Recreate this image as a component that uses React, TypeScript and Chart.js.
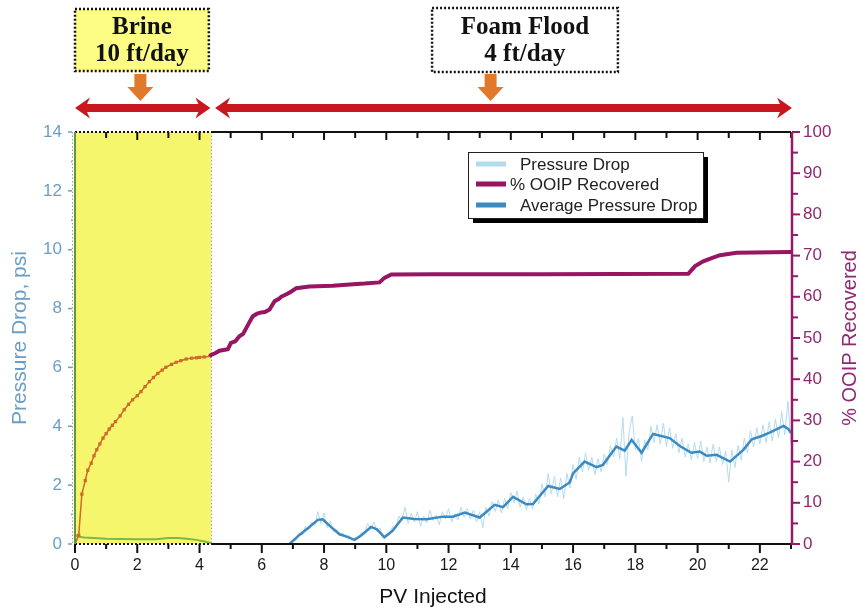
import React, { useEffect, useRef } from 'react';
import { Chart, registerables } from 'chart.js';

Chart.register(...registerables);

// ---------- data ----------
const BRINE_END = 4.37;

const ooipPV = [
  0, 0.12, 0.22, 0.33, 0.41, 0.52, 0.61, 0.7, 0.8, 0.9,
  1.0, 1.1, 1.2, 1.3, 1.45, 1.58, 1.72, 1.85, 2.0, 2.12,
  2.25, 2.39, 2.52, 2.66, 2.8, 2.92, 3.1, 3.25, 3.4, 3.57,
  3.75, 3.9, 4.0, 4.15, 4.32,
  4.37, 4.5, 4.64, 4.91, 5.01, 5.15, 5.28, 5.4, 5.5, 5.6,
  5.71, 5.85, 5.98, 6.1, 6.25, 6.41, 6.55, 6.62, 6.84, 6.95,
  7.11, 7.53, 8.28, 8.82, 9.3, 9.78, 9.94, 10.16, 11.5, 15,
  19.7, 19.91, 20.18, 20.45, 20.72, 21.25, 23,
];
const ooipPct = [
  0, 2.1, 12.1, 15.4, 17.9, 19.6, 21.4, 22.9, 24.3, 25.7,
  26.8, 27.9, 28.8, 29.7, 31.1, 32.6, 33.9, 35.0, 36.0, 37.0,
  38.2, 39.4, 40.4, 41.4, 42.2, 42.9, 43.6, 44.1, 44.5, 44.9,
  45.1, 45.2, 45.3, 45.4, 45.5,
  45.9, 46.3, 46.9, 47.3, 48.8, 49.2, 50.4, 51.0, 52.4, 53.8,
  55.3, 55.9, 56.2, 56.3, 56.9, 58.9, 59.5, 60.0, 60.8, 61.3,
  62.1, 62.5, 62.7, 63.0, 63.2, 63.5, 64.6, 65.4, 65.5, 65.5,
  65.6, 67.4, 68.6, 69.4, 70.1, 70.7, 70.9,
];

const brinePressPV = [0.02, 0.1, 0.3, 0.6, 1.0, 1.5, 2.0, 2.6, 3.0, 3.3, 3.6, 3.9, 4.2, 4.37];
const brinePress = [0.3, 0.25, 0.22, 0.2, 0.18, 0.17, 0.16, 0.16, 0.2, 0.2, 0.18, 0.14, 0.08, 0.03];

const avgPV = [
  6.89, 7.2, 7.5, 7.8, 7.96, 8.2, 8.5, 8.75, 8.98, 9.2,
  9.51, 9.7, 9.94, 10.2, 10.53, 10.9, 11.29, 11.82, 12.14, 12.52,
  13.0, 13.48, 13.75, 14.07, 14.5, 14.71, 15.2, 15.57, 15.89, 16.0,
  16.37, 16.75, 16.96, 17.39, 17.66, 17.88, 18.2, 18.57, 19.1, 19.43,
  19.8, 20.07, 20.29, 20.61, 21.04, 21.47, 21.74, 22.06, 22.33, 22.76,
  22.92, 23.0,
];
const avgDrop = [
  0, 0.3, 0.55, 0.82, 0.84, 0.6, 0.33, 0.24, 0.14, 0.3,
  0.58, 0.5, 0.23, 0.45, 0.9, 0.85, 0.84, 0.93, 0.93, 1.07,
  0.9, 1.33, 1.25, 1.6, 1.35, 1.36, 1.97, 1.87, 2.09, 2.4,
  2.8, 2.61, 2.69, 3.31, 3.17, 3.54, 3.1, 3.74, 3.6, 3.33,
  3.1, 3.14, 3.0, 3.03, 2.8, 3.2, 3.56, 3.67, 3.79, 4.01,
  3.9, 3.77,
];

const rawPV = [
  7.0, 7.1, 7.2, 7.3, 7.4, 7.5, 7.6, 7.7, 7.8, 7.9,
  8.0, 8.1, 8.2, 8.3, 8.4, 8.5, 8.6, 8.7, 8.8, 8.9,
  9.0, 9.1, 9.2, 9.3, 9.4, 9.5, 9.6, 9.7, 9.8, 9.9,
  10.0, 10.1, 10.2, 10.3, 10.4, 10.5, 10.6, 10.7, 10.8, 10.9,
  11.0, 11.1, 11.2, 11.3, 11.4, 11.5, 11.6, 11.7, 11.8, 11.9,
  12.0, 12.1, 12.2, 12.3, 12.4, 12.5, 12.6, 12.7, 12.8, 12.9,
  13.0, 13.1, 13.2, 13.3, 13.4, 13.5, 13.6, 13.7, 13.8, 13.9,
  14.0, 14.1, 14.2, 14.3, 14.4, 14.5, 14.6, 14.7, 14.8, 14.9,
  15.0, 15.1, 15.2, 15.3, 15.4, 15.5, 15.6, 15.7, 15.8, 15.9,
  16.0, 16.1, 16.2, 16.3, 16.4, 16.5, 16.6, 16.7, 16.8, 16.9,
  17.0, 17.1, 17.2, 17.3, 17.4, 17.5, 17.6, 17.7, 17.8, 17.9,
  18.0, 18.1, 18.2, 18.3, 18.4, 18.5, 18.6, 18.7, 18.8, 18.9,
  19.0, 19.1, 19.2, 19.3, 19.4, 19.5, 19.6, 19.7, 19.8, 19.9,
  20.0, 20.1, 20.2, 20.3, 20.4, 20.5, 20.6, 20.7, 20.8, 20.9,
  21.0, 21.1, 21.2, 21.3, 21.4, 21.5, 21.6, 21.7, 21.8, 21.9,
  22.0, 22.1, 22.2, 22.3, 22.4, 22.5, 22.6, 22.7, 22.8, 22.9,
  23.0,
];
const rawDrop = [
  0.15, 0.12, 0.38, 0.3, 0.6, 0.48, 0.75, 0.62, 1.1, 0.7,
  1.05, 0.55, 0.78, 0.42, 0.5, 0.28, 0.38, 0.2, 0.3, 0.12,
  0.22, 0.18, 0.4, 0.32, 0.7, 0.5, 0.75, 0.42, 0.55, 0.2,
  0.35, 0.3, 0.6, 0.52, 0.95, 0.78, 1.25, 0.7, 1.05, 0.75,
  1.1, 0.6, 0.95, 0.72, 1.15, 0.8, 0.98, 0.65, 1.1, 0.85,
  1.2, 0.75, 1.05, 0.82, 1.25, 0.9, 1.2, 0.85, 1.15, 0.75,
  1.1, 0.55, 1.25, 0.95, 1.45, 1.1, 1.5, 1.05, 1.55, 1.2,
  1.75, 1.4, 1.8, 1.25, 1.6, 1.15, 1.55, 1.2, 1.7, 1.35,
  2.05, 1.6, 2.4, 1.7, 2.3, 1.6, 2.25, 1.55, 2.4, 1.9,
  2.7, 2.2, 2.95, 2.45, 3.1, 2.5, 2.95, 2.35, 2.9, 2.45,
  3.05, 2.7, 3.35, 2.95, 3.6, 2.9, 4.3, 2.3, 3.8, 4.35,
  3.2, 3.6, 2.8, 3.55, 3.2, 4.0, 3.45, 4.05, 3.4, 4.1,
  3.3, 3.95, 3.25, 3.75, 3.1, 3.6, 2.95, 3.4, 2.85, 3.45,
  2.9, 3.5, 2.8, 3.3, 2.75, 3.4, 2.8, 3.3, 2.7, 3.15,
  2.1, 3.2, 2.6, 3.35, 2.85, 3.6, 3.1, 3.85, 3.3, 3.95,
  3.4, 4.05, 3.45, 4.15, 3.5, 4.25, 3.6, 4.5, 3.7, 4.85,
  3.4,
];

const xTickValues = [0, 2, 4, 6, 8, 10, 12, 14, 16, 18, 20, 22];
const legendLabels = ['Pressure Drop', '% OOIP Recovered', 'Average Pressure Drop'];

// ---------- styles ----------
const PURPLE = '#971562';
const PURPLE_AXIS = '#961a6c';
const PURPLE_TEXT = '#8f2a72';
const ORANGE = '#cf6a2c';
const AVG_BLUE = '#3b8ac1';
const RAW_BLUE = '#b3dbee';
const GREEN = '#7cb848';
const LEFT_BLUE = '#6a9ec6';
const YELLOW = '#f6f66c';
const SANS = '"Liberation Sans", Arial, sans-serif';

const toXY = (xs: number[], ys: number[]) => xs.map((x, i) => ({ x, y: ys[i] }));

function doubleArrow(ctx: CanvasRenderingContext2D, x1: number, x2: number, y: number) {
  const st = 4, hh = 10.5, hl = 15;
  ctx.beginPath();
  ctx.moveTo(x1, y);
  ctx.lineTo(x1 + hl, y - hh);
  ctx.lineTo(x1 + hl - 3, y - st);
  ctx.lineTo(x2 - hl + 3, y - st);
  ctx.lineTo(x2 - hl, y - hh);
  ctx.lineTo(x2, y);
  ctx.lineTo(x2 - hl, y + hh);
  ctx.lineTo(x2 - hl + 3, y + st);
  ctx.lineTo(x1 + hl - 3, y + st);
  ctx.lineTo(x1 + hl, y + hh);
  ctx.closePath();
  ctx.fill();
}

function downArrow(ctx: CanvasRenderingContext2D, cx: number, y1: number, y2: number) {
  const sw = 6, hw = 13, hl = 14;
  ctx.beginPath();
  ctx.moveTo(cx - sw, y1);
  ctx.lineTo(cx + sw, y1);
  ctx.lineTo(cx + sw, y2 - hl);
  ctx.lineTo(cx + hw, y2 - hl);
  ctx.lineTo(cx, y2);
  ctx.lineTo(cx - hw, y2 - hl);
  ctx.lineTo(cx - sw, y2 - hl);
  ctx.closePath();
  ctx.fill();
}

const decorPlugin = {
  id: 'decor',
  beforeDatasetsDraw(chart: any) {
    const { ctx, chartArea: a, scales } = chart;
    const xe = scales.x.getPixelForValue(BRINE_END);
    ctx.save();
    ctx.fillStyle = YELLOW;
    ctx.fillRect(a.left, a.top, xe - a.left, a.bottom - a.top);
    ctx.strokeStyle = '#a0a0a0';
    ctx.lineWidth = 1;
    ctx.setLineDash([1.5, 2]);
    ctx.beginPath();
    ctx.moveTo(xe + 0.5, a.top);
    ctx.lineTo(xe + 0.5, a.bottom);
    ctx.moveTo(a.left - 2.5, a.top);
    ctx.lineTo(a.left - 2.5, a.bottom);
    ctx.stroke();
    ctx.restore();
  },
  afterDatasetsDraw(chart: any) {
    const { ctx, chartArea: a, scales } = chart;
    const x = scales.x, y = scales.y, y2 = scales.y2;
    const xe = x.getPixelForValue(BRINE_END);
    ctx.save();
    // bottom + top frame
    ctx.strokeStyle = '#111';
    ctx.lineWidth = 2;
    for (const yy of [a.bottom, a.top]) {
      ctx.setLineDash([2, 2]);
      ctx.beginPath();
      ctx.moveTo(a.left, yy);
      ctx.lineTo(xe, yy);
      ctx.stroke();
      ctx.setLineDash([]);
      ctx.beginPath();
      ctx.moveTo(xe, yy);
      ctx.lineTo(a.right, yy);
      ctx.stroke();
    }
    // x ticks
    ctx.lineWidth = 2;
    for (let v = 0; v <= 23; v++) {
      const px = x.getPixelForValue(v);
      const major = v % 2 === 0;
      ctx.beginPath();
      ctx.moveTo(px, a.bottom);
      ctx.lineTo(px, a.bottom + (major ? 9 : 5));
      ctx.moveTo(px, a.top);
      ctx.lineTo(px, a.top + (major ? 8 : 6));
      ctx.stroke();
    }
    // left axis
    ctx.strokeStyle = '#5f9a3a';
    ctx.lineWidth = 2;
    ctx.beginPath();
    ctx.moveTo(a.left, a.top);
    ctx.lineTo(a.left, a.bottom);
    ctx.stroke();
    ctx.strokeStyle = LEFT_BLUE;
    ctx.lineWidth = 1.5;
    for (let v = 0; v <= 14; v++) {
      const py = y.getPixelForValue(v);
      const len = v % 2 === 0 ? 7 : 4;
      ctx.beginPath();
      ctx.moveTo(a.left - 3, py);
      ctx.lineTo(a.left - 3 - len + 3, py);
      ctx.stroke();
    }
    // right axis
    ctx.strokeStyle = PURPLE_AXIS;
    ctx.lineWidth = 2.5;
    ctx.beginPath();
    ctx.moveTo(a.right + 1, a.top);
    ctx.lineTo(a.right + 1, a.bottom + 1);
    ctx.stroke();
    ctx.lineWidth = 2;
    for (let v = 0; v <= 100; v += 5) {
      const py = y2.getPixelForValue(v);
      const len = v % 10 === 0 ? 8 : 6;
      ctx.beginPath();
      ctx.moveTo(a.right + 1, py);
      ctx.lineTo(a.right + 1 + len, py);
      ctx.stroke();
    }
    ctx.restore();
  },
  afterDraw(chart: any) {
    const { ctx, chartArea: a, scales, data } = chart;
    const x = scales.x;
    ctx.save();

    // right axis title (reads bottom to top)
    ctx.save();
    ctx.translate(850, (a.top + a.bottom) / 2);
    ctx.rotate(-Math.PI / 2);
    ctx.fillStyle = PURPLE_TEXT;
    ctx.font = `20px ${SANS}`;
    ctx.textAlign = 'center';
    ctx.textBaseline = 'middle';
    ctx.fillText('% OOIP Recovered', 0, 0);
    ctx.restore();

    // legend
    const lx = 468, ly = 152, lw = 235, lh = 66;
    ctx.fillStyle = '#000';
    ctx.fillRect(lx + 5, ly + 5, lw, lh);
    ctx.fillStyle = '#fff';
    ctx.fillRect(lx, ly, lw, lh);
    ctx.strokeStyle = '#222';
    ctx.lineWidth = 1;
    ctx.strokeRect(lx + 0.5, ly + 0.5, lw, lh);
    const colors = [RAW_BLUE, PURPLE, AVG_BLUE];
    const rowsY = [164, 184, 205];
    const textX = [520, 510, 520];
    ctx.font = `17px ${SANS}`;
    ctx.textBaseline = 'middle';
    ctx.textAlign = 'left';
    legendLabels.forEach((lab, i) => {
      ctx.fillStyle = colors[i];
      ctx.fillRect(lx + 8, rowsY[i] - 2.5, 30, 5);
      ctx.fillStyle = '#222';
      ctx.fillText(lab, textX[i], rowsY[i] + 1);
    });

    // top annotations
    const bx1 = x.getPixelForValue(0), bx2 = x.getPixelForValue(4.3);
    const fx1 = x.getPixelForValue(11.47), fx2 = x.getPixelForValue(17.44);
    ctx.setLineDash([2, 2]);
    ctx.lineWidth = 2.5;
    ctx.strokeStyle = '#111';
    ctx.fillStyle = '#fdfd86';
    ctx.fillRect(bx1, 9, bx2 - bx1, 62);
    ctx.strokeRect(bx1, 9, bx2 - bx1, 62);
    ctx.fillStyle = '#fff';
    ctx.fillRect(fx1, 8, fx2 - fx1, 64);
    ctx.strokeRect(fx1, 8, fx2 - fx1, 64);
    ctx.setLineDash([]);
    ctx.fillStyle = '#111';
    ctx.font = `bold 25px "Liberation Serif", "Times New Roman", serif`;
    ctx.textAlign = 'center';
    ctx.textBaseline = 'middle';
    ctx.fillText('Brine', (bx1 + bx2) / 2, 28);
    ctx.fillText('10 ft/day', (bx1 + bx2) / 2, 55);
    ctx.fillText('Foam Flood', (fx1 + fx2) / 2, 28);
    ctx.fillText('4 ft/day', (fx1 + fx2) / 2, 55);

    ctx.fillStyle = '#e07a2a';
    downArrow(ctx, x.getPixelForValue(2.1), 74, 101);
    downArrow(ctx, x.getPixelForValue(13.35), 74, 101);

    ctx.fillStyle = '#c8171e';
    doubleArrow(ctx, x.getPixelForValue(0), x.getPixelForValue(4.35), 108);
    doubleArrow(ctx, x.getPixelForValue(4.5), x.getPixelForValue(23.03), 108);

    ctx.restore();
  },
};

export default function App() {
  const ref = useRef<HTMLCanvasElement | null>(null);

  useEffect(() => {
    document.body.style.margin = '0';
    const canvas = ref.current;
    if (!canvas) return;
    Chart.defaults.font.family = SANS;

    const chart = new Chart(canvas, {
      type: 'line',
      data: {
        datasets: [
          {
            label: legendLabels[2],
            data: toXY(avgPV, avgDrop),
            yAxisID: 'y',
            borderColor: AVG_BLUE,
            borderWidth: 2.5,
            pointRadius: 0,
            tension: 0,
          },
          {
            label: legendLabels[1],
            data: toXY(ooipPV, ooipPct),
            yAxisID: 'y2',
            borderColor: PURPLE,
            borderWidth: 4,
            pointStyle: 'rect',
            pointRadius: (c: any) => (ooipPV[c.dataIndex] < BRINE_END - 0.1 && ooipPV[c.dataIndex] > 0 ? 2.3 : 0),
            pointBackgroundColor: ORANGE,
            pointBorderWidth: 0,
            segment: {
              borderColor: (c: any) => (c.p1.parsed.x <= BRINE_END - 0.02 ? ORANGE : PURPLE),
              borderWidth: (c: any) => (c.p1.parsed.x <= BRINE_END - 0.02 ? 1.5 : 4),
            },
            tension: 0,
          },
          {
            label: 'Brine pressure',
            data: toXY(brinePressPV, brinePress),
            yAxisID: 'y',
            borderColor: GREEN,
            borderWidth: 2,
            pointRadius: 0,
          },
          {
            label: legendLabels[0],
            data: toXY(rawPV, rawDrop),
            yAxisID: 'y',
            borderColor: RAW_BLUE,
            borderWidth: 1,
            pointRadius: 0,
            tension: 0,
          },
        ],
      },
      options: {
        animation: false,
        responsive: true,
        maintainAspectRatio: false,
        parsing: false as any,
        layout: { padding: { top: 132, left: 0, right: 0, bottom: 0 } },
        plugins: { legend: { display: false }, tooltip: { enabled: false } },
        scales: {
          x: {
            type: 'linear',
            min: 0,
            max: 23,
            afterBuildTicks: (s: any) => {
              s.ticks = xTickValues.map((v) => ({ value: v }));
            },
            afterFit: (s: any) => {
              s.height = 66;
            },
            grid: { display: false, drawTicks: false },
            border: { display: false },
            ticks: { color: '#1a1a1a', font: { size: 16 }, padding: 12, maxRotation: 0 },
            title: {
              display: true,
              text: 'PV Injected',
              color: '#111',
              font: { size: 21 },
              padding: { top: 0, bottom: 0 },
            },
          },
          y: {
            type: 'linear',
            position: 'left',
            min: 0,
            max: 14,
            afterFit: (s: any) => {
              s.width = 75;
            },
            grid: { display: false, drawTicks: false },
            border: { display: false },
            ticks: { stepSize: 2, color: LEFT_BLUE, font: { size: 17 }, padding: 13 },
            title: {
              display: true,
              text: 'Pressure Drop, psi',
              color: LEFT_BLUE,
              font: { size: 21 },
              padding: { top: 8, bottom: 0 },
            },
          },
          y2: {
            type: 'linear',
            position: 'right',
            min: 0,
            max: 100,
            afterFit: (s: any) => {
              s.width = 70;
            },
            grid: { display: false, drawTicks: false },
            border: { display: false },
            ticks: { stepSize: 10, color: PURPLE_TEXT, font: { size: 17 }, padding: 12 },
          },
        },
      },
      plugins: [decorPlugin],
    } as any);

    return () => chart.destroy();
  }, []);

  return (
    <div style={{ position: 'relative', width: 861, height: 610 }}>
      <canvas ref={ref} />
    </div>
  );
}
